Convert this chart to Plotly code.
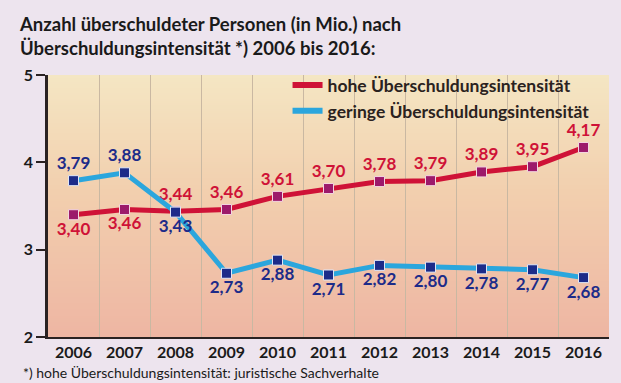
import base64
import struct
import zlib

import plotly.graph_objects as go

years = ["2006", "2007", "2008", "2009", "2010", "2011", "2012", "2013", "2014", "2015", "2016"]
hohe = [3.40, 3.46, 3.44, 3.46, 3.61, 3.70, 3.78, 3.79, 3.89, 3.95, 4.17]
geringe = [3.79, 3.88, 3.43, 2.73, 2.88, 2.71, 2.82, 2.80, 2.78, 2.77, 2.68]
hohe_labels = ["3,40", "3,46", "3,44", "3,46", "3,61", "3,70", "3,78", "3,79", "3,89", "3,95", "4,17"]
geringe_labels = ["3,79", "3,88", "3,43", "2,73", "2,88", "2,71", "2,82", "2,80", "2,78", "2,77", "2,68"]
hohe_pos = ["bottom center"] * 2 + ["top center"] * 9
geringe_pos = ["top center"] * 2 + ["bottom center"] * 9
y_ticks = [2, 3, 4, 5]

RED = "#cf1237"
RED_M = "#9c1a6b"
BLUE = "#2ba6dd"
BLUE_M = "#1c2b89"
FONT = "Lato"
BG_TOP = (244, 230, 195)
BG_MID = (242, 207, 174)
BG_BOT = (238, 182, 163)


def gradient_png(stops, n=128):
    rows = []
    for i in range(n):
        t = i / (n - 1)
        for j in range(len(stops) - 1):
            t0, c0 = stops[j]
            t1, c1 = stops[j + 1]
            if t0 <= t <= t1:
                f = (t - t0) / (t1 - t0)
                c = tuple(int(round(a + (b - a) * f)) for a, b in zip(c0, c1))
                break
        rows.append(b"\x00" + bytes(c))
    raw = b"".join(rows)

    def chunk(tag, data):
        return struct.pack(">I", len(data)) + tag + data + struct.pack(">I", zlib.crc32(tag + data) & 0xffffffff)

    png = b"\x89PNG\r\n\x1a\n" + chunk(b"IHDR", struct.pack(">IIBBBBB", 1, n, 8, 2, 0, 0, 0)) \
        + chunk(b"IDAT", zlib.compress(raw)) + chunk(b"IEND", b"")
    return "data:image/png;base64," + base64.b64encode(png).decode()


fig = go.Figure()

fig.add_trace(go.Scatter(
    x=years, y=hohe, mode="lines+markers+text", text=hohe_labels, textposition=hohe_pos,
    line=dict(color=RED, width=5),
    marker=dict(symbol="square", size=10, color=RED_M, line=dict(color="#f3d6e0", width=1)),
    textfont=dict(family=FONT, size=17, color=RED, weight="bold"),
    showlegend=False, cliponaxis=False,
))
fig.add_trace(go.Scatter(
    x=years, y=geringe, mode="lines+markers+text", text=geringe_labels, textposition=geringe_pos,
    line=dict(color=BLUE, width=5),
    marker=dict(symbol="square", size=10, color=BLUE_M, line=dict(color="#dfe6f5", width=1)),
    textfont=dict(family=FONT, size=17, color=BLUE_M, weight="bold"),
    showlegend=False, cliponaxis=False,
))
# legend-only entries (plain thick bars like the reference)
fig.add_trace(go.Scatter(x=[None], y=[None], mode="lines", line=dict(color=RED, width=6),
                         name="hohe Überschuldungsintensität"))
fig.add_trace(go.Scatter(x=[None], y=[None], mode="lines", line=dict(color=BLUE, width=6),
                         name="geringe Überschuldungsintensität"))

fig.add_layout_image(
    source=gradient_png([(0, BG_TOP), (0.45, BG_MID), (1, BG_BOT)]),
    xref="paper", yref="paper", x=0, y=1, sizex=1, sizey=1,
    xanchor="left", yanchor="top", sizing="stretch", layer="below",
)

fig.update_layout(
    width=621, height=383,
    margin=dict(l=48, r=12, t=75, b=46),
    paper_bgcolor="#ede4ee",
    plot_bgcolor="rgba(0,0,0,0)",
    font=dict(family=FONT, color="#1a1a1a"),
    title=dict(
        text="Anzahl überschuldeter Personen (in Mio.) nach<br>Überschuldungsintensität *) 2006 bis 2016:",
        xref="container", yref="container", x=20/621, y=1 - 31/383,
        xanchor="left", yanchor="top", pad=dict(t=0, b=0, l=0, r=0),
        font=dict(family=FONT, size=18.5, color="#1a1a1a", weight="bold"),
    ),
    xaxis=dict(
        type="category", categoryorder="array", categoryarray=years, range=[-0.5, 10.5],
        tickson="boundaries", showgrid=True, gridcolor="#c9b8a2", gridwidth=1,
        ticks="", showline=True, linecolor="#2a2222", linewidth=2,
        tickfont=dict(family=FONT, size=16, color="#1a1a1a", weight="bold"),
        zeroline=False,
    ),
    yaxis=dict(
        range=[2, 5], tickvals=y_ticks, ticktext=[str(v) for v in y_ticks],
        showgrid=False, zeroline=False, ticks="outside", ticklen=9, tickwidth=1.5,
        tickcolor="#2a2222", showline=True, linecolor="#2a2222", linewidth=2.5,
        tickfont=dict(family=FONT, size=16, color="#1a1a1a", weight="bold"),
    ),
    legend=dict(
        x=0.427, y=1.03, xanchor="left", yanchor="top", bgcolor="rgba(0,0,0,0)",
        font=dict(family=FONT, size=17.5, color="#2a2220", weight="bold"),
        tracegroupgap=0, itemwidth=30,
    ),
    showlegend=True,
)

fig.add_annotation(text="*) hohe Überschuldungsintensität: juristische Sachverhalte",
                   xref="paper", yref="paper", x=-27/562, y=-(372 - 337) / 262,
                   xanchor="left", yanchor="middle", showarrow=False, align="left",
                   font=dict(family=FONT, size=14, color="#1a1a1a"))

fig.write_html("out.html", config={"displayModeBar": False},
               post_script="document.body.style.margin='0';document.body.style.background='#ede4ee';")
